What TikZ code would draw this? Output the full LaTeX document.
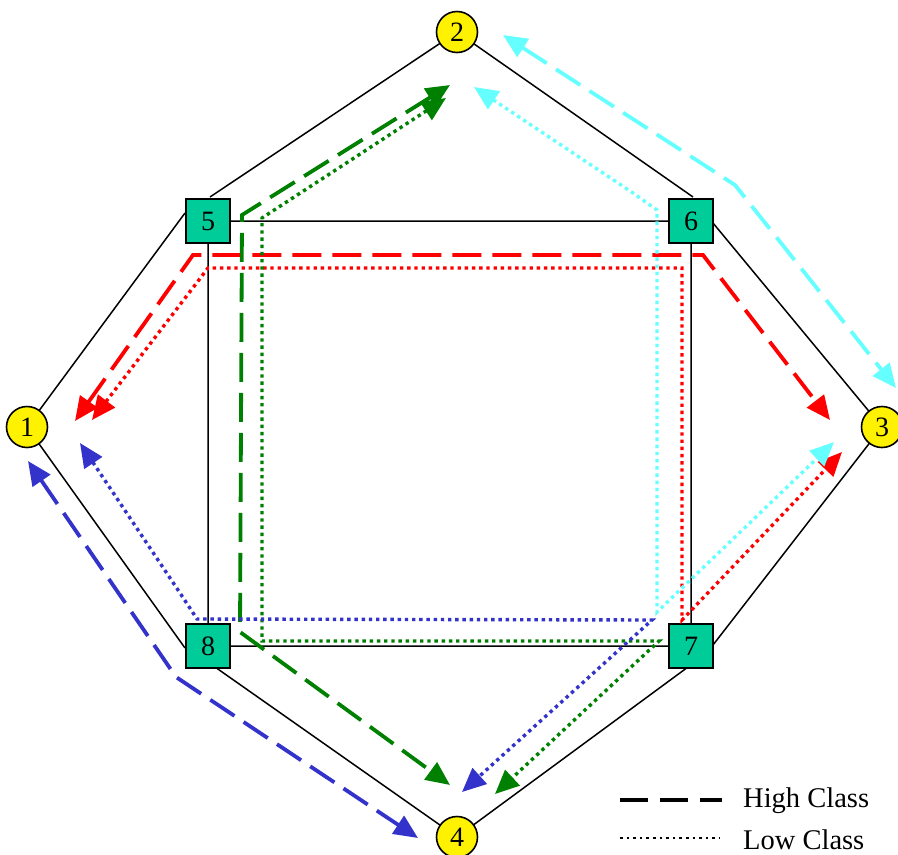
\documentclass[tikz,border=0pt]{standalone}
\usepackage{fontspec}
\setmainfont{Liberation Serif}
\usetikzlibrary{arrows.meta}
\definecolor{sqfill}{HTML}{00CC99}
\definecolor{cyanc}{HTML}{66FFFF}
\definecolor{bluec}{HTML}{3333CC}
\definecolor{greenc}{HTML}{008000}
\definecolor{redc}{HTML}{FF0000}
\tikzset{
  circnode/.style={circle,draw=black,line width=1.6pt,fill=yellow,minimum size=41pt,inner sep=0pt,font=\fontsize{28}{30}\selectfont},
  sqnode/.style={rectangle,draw=black,line width=1.6pt,fill=sqfill,minimum size=44pt,inner sep=0pt,font=\fontsize{28}{30}\selectfont},
  edge/.style={draw=black,line width=1.5pt},
  tip/.style={{Triangle[length=24pt,width=21pt]}-{Triangle[length=24pt,width=21pt]}},
  hi/.style={line width=3.8pt,dash pattern=on 29pt off 11pt,tip},
  lo/.style={line width=3.4pt,dash pattern=on 3.4pt off 3.8pt,tip},
}
\begin{document}
\begin{tikzpicture}[x=1pt,y=-1pt]
\useasboundingbox (0,0) rectangle (898,855);
\coordinate (c1) at (27,427);
\coordinate (c2) at (457,32);
\coordinate (c3) at (882,427);
\coordinate (c4) at (457,837);
\coordinate (c5) at (208,221);
\coordinate (c6) at (691,221);
\coordinate (c7) at (691,646);
\coordinate (c8) at (208,646);
% black frame lines (below nodes)
\draw[edge] (c2) -- (210,197) (c5) -- (c6) -- (c7) -- (c8) -- cycle;
\draw[edge] (c2) -- (693,197);
\draw[edge] (c1) -- (185,213);
\draw[edge] (c3) -- (713,223);
\draw[edge] (c3) -- (713,645);
\draw[edge] (c4) -- (688,667);
\draw[edge] (c1) -- (185,648);
\draw[edge] (c4) -- (215,667);
% nodes
\node[circnode] (n1) at (c1) {1};
\node[circnode] (n2) at (c2) {2};
\node[circnode] (n3) at (c3) {3};
\node[circnode] (n4) at (c4) {4};
\node[sqnode] (n5) at (c5) {5};
\node[sqnode] (n6) at (c6) {6};
\node[sqnode] (n7) at (c7) {7};
\node[sqnode] (n8) at (c8) {8};
% red
\draw[hi,redc] (75,421) -- (193,255) -- (703,255) -- (830,420);
\draw[lo,redc] (92,420) -- (208,268) -- (682,268) -- (682,620) -- (842,452);
% green
\draw[hi,greenc] (450,85) -- (242,215) -- (240,632) -- (450,785);
\draw[lo,greenc] (446,98) -- (262,218) -- (262,641) -- (659,641) -- (495,794);
% cyan
\draw[hi,cyanc] (503,35) -- (735,185) -- (896,388);
\draw[lo,cyanc] (474,87) -- (633,193) -- (657,210) -- (657,612) -- (834,442);
% blue
\draw[lo,bluec] (80,443) -- (180,593) -- (197,619) -- (652,620) -- (462,792);
\draw[hi,bluec] (28,461) -- (176,677) -- (418,838);
% legend
\coordinate (h1) at (620,800);
\coordinate (h2) at (722,800);
\coordinate (l1) at (620,838);
\coordinate (l2) at (720,838);
\draw[line width=3.8pt,dash pattern=on 28pt off 12pt] (h1) -- (h2);
\draw[line width=2.5pt,dash pattern=on 2.5pt off 4.1pt] (l1) -- (l2);
\node[anchor=west,font=\fontsize{28.5}{31}\selectfont,inner sep=0pt] (t1) at (743,801) {High Class};
\node[anchor=west,font=\fontsize{28.5}{31}\selectfont,inner sep=0pt] (t2) at (743,840) {Low Class};
\end{tikzpicture}
\end{document}
